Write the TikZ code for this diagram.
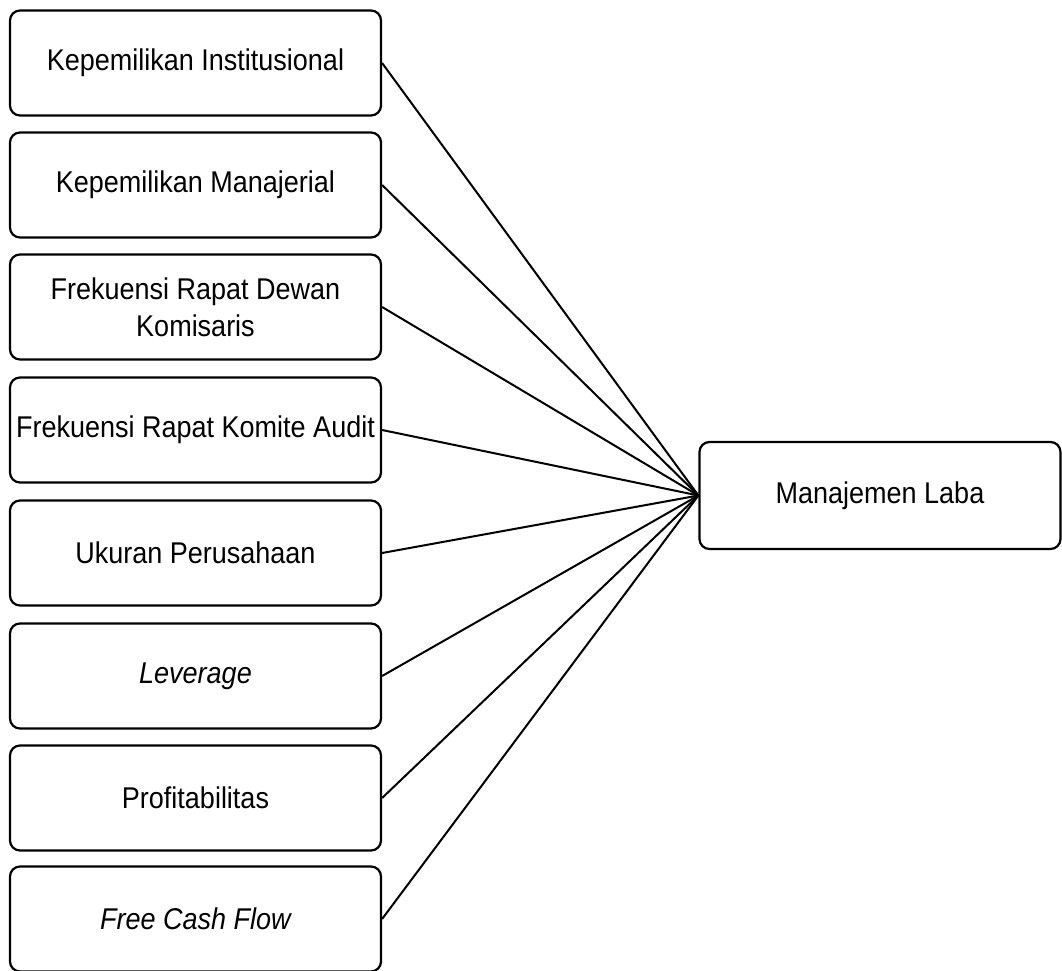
\documentclass[tikz,border=0pt]{standalone}
\usepackage{fontspec}
\setmainfont{Liberation Sans}[FakeStretch=0.9]
\begin{document}
\begin{tikzpicture}[x=1pt,y=-1pt,
  box/.style={draw=black, line width=2.2pt, rounded corners=10pt, minimum width=371pt, minimum height=105pt, align=center, font=\fontsize{30}{37}\selectfont, inner sep=0pt},
  link/.style={draw=black, line width=2pt}]
\useasboundingbox (0,0) rectangle (1062,971);
\node[box] (b1) at (195.5,63) {Kepemilikan Institusional};
\node[box] (b2) at (195.5,185) {Kepemilikan Manajerial};
\node[box] (b3) at (195.5,307) {Frekuensi Rapat Dewan\\Komisaris};
\node[box] (b4) at (195.5,430) {Frekuensi Rapat Komite Audit};
\node[box] (b5) at (195.5,553) {Ukuran Perusahaan};
\node[box] (b6) at (195.5,676) {\itshape Leverage};
\node[box] (b7) at (195.5,798) {Profitabilitas};
\node[box] (b8) at (195.5,919) {\itshape Free Cash Flow};
\node[box, minimum width=361pt, minimum height=107pt] (ml) at (880,495.5) {Manajemen Laba};
\foreach \i in {1,...,8} {\draw[link] (b\i.east) -- (ml.west);}
\end{tikzpicture}
\end{document}
